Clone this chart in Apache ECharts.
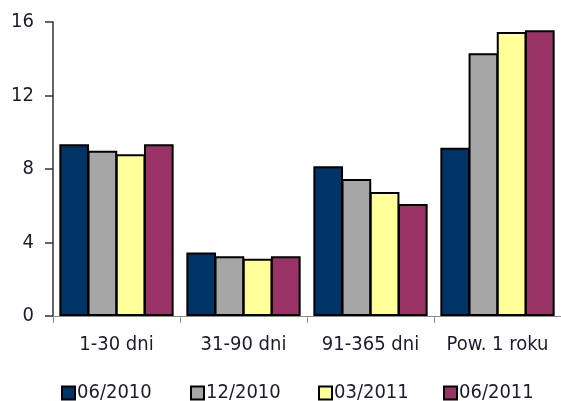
<!DOCTYPE html>
<html>
<head>
<meta charset="utf-8">
<script src="https://cdn.jsdelivr.net/npm/echarts@6/dist/echarts.min.js"></script>
<style>
  html, body { margin: 0; padding: 0; background: #fff; }
  #chart { width: 561px; height: 401px; }
</style>
</head>
<body>
<div id="chart"></div>
<script>
// Categories (overdue buckets) and period series
const categories = ['1-30 dni', '31-90 dni', '91-365 dni', 'Pow. 1 roku'];
const periods = ['06/2010', '12/2010', '03/2011', '06/2011'];
const s_06_2010 = [9.35, 3.45, 8.15, 9.15];
const s_12_2010 = [9.0, 3.25, 7.45, 14.3];
const s_03_2011 = [8.8, 3.12, 6.75, 15.45];
const s_06_2011 = [9.35, 3.25, 6.1, 15.55];
const yTicks = [0, 4, 8, 12, 16];

const seriesValues = [s_06_2010, s_12_2010, s_03_2011, s_06_2011];
const colors = ['#003366', '#a6a6a6', '#ffff99', '#993366'];
const legendLeft = [61, 190, 318, 443];
const FONT = 'DejaVu Sans Condensed';
const TEXT = '#1c1c2c';

const chart = echarts.init(document.getElementById('chart'), null, { renderer: 'canvas' });

chart.setOption({
  animation: false,
  backgroundColor: '#ffffff',
  textStyle: { fontFamily: FONT },
  grid: { left: 53, top: 22, width: 511, height: 294, containLabel: false },
  legend: periods.map((p, i) => ({
    data: [p],
    left: legendLeft[i],
    top: 383,
    icon: 'rect',
    itemWidth: 13,
    itemHeight: 13,
    itemGap: 0,
    padding: 0,
    textStyle: { fontFamily: FONT, fontSize: 20, color: TEXT, padding: [0, 0, 0, -3] }
  })),
  xAxis: {
    type: 'category',
    data: categories,
    axisLine: { show: true, lineStyle: { color: '#8c8c8c', width: 1 } },
    axisTick: { show: true, interval: 0, length: 7, lineStyle: { color: '#8c8c8c' } },
    axisLabel: { interval: 0, hideOverlap: false, fontFamily: FONT, fontSize: 20, color: TEXT, margin: 19 },
    splitLine: { show: false }
  },
  yAxis: {
    type: 'value',
    min: yTicks[0],
    max: yTicks[yTicks.length - 1],
    interval: yTicks[1] - yTicks[0],
    axisLine: { show: true, lineStyle: { color: '#333333', width: 1.5 } },
    axisTick: { show: true, length: 8, lineStyle: { color: '#333333', width: 1.5 } },
    axisLabel: { fontFamily: FONT, fontSize: 20, color: TEXT, margin: 19 },
    splitLine: { show: false }
  },
  series: periods.map((p, i) => ({
    name: p,
    type: 'bar',
    data: seriesValues[i],
    barGap: '-5%',
    barCategoryGap: '10%',
    itemStyle: { color: colors[i], borderColor: '#000000', borderWidth: 2 }
  }))
});
</script>
</body>
</html>
